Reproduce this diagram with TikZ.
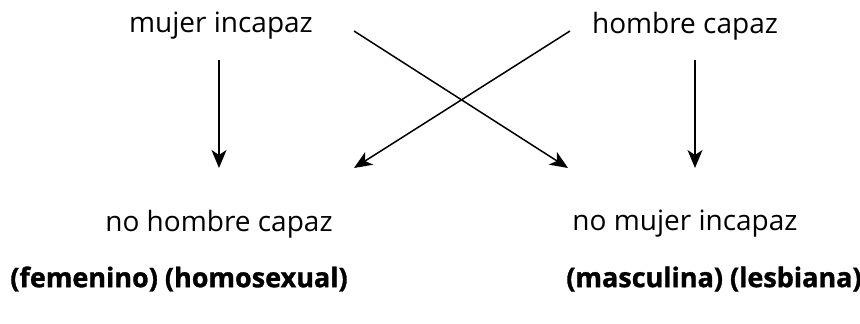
\documentclass[tikz,border=0pt]{standalone}
\usepackage{fontspec}
\setmainfont{Open Sans}
\newfontfamily\heavyfont[FakeBold=1.2]{Open Sans Bold}
\usetikzlibrary{arrows.meta}
\begin{document}
\begin{tikzpicture}[x=1pt,y=-1pt,
  term/.style={inner sep=0pt,font=\fontsize{28}{32}\selectfont},
  gloss/.style={inner sep=0pt,font=\fontsize{27}{31}\heavyfont},
  arr/.style={line width=1.5pt,-{Stealth[length=18pt,width=15pt,inset=5pt]}}]
  \useasboundingbox (0,0) rectangle (860,324);
  % terms of the square
  \node[term] (mi) at (221,26) {mujer incapaz};
  \node[term] (hc) at (685,26) {hombre capaz};
  \node[term] (nhc) at (219,224) {no hombre capaz};
  \node[term] (nmi) at (685,224) {no mujer incapaz};
  % readings of the negated terms
  \node[gloss] (fh) at (179,279) {(femenino) (homosexual)};
  \node[gloss] (ml) at (714,279) {(masculina) (lesbiana)};
  % arrow end points
  \coordinate (a1) at (219,60);  \coordinate (b1) at (219,168);
  \coordinate (a2) at (695,60);  \coordinate (b2) at (695,168);
  \coordinate (a3) at (354,31);  \coordinate (b3) at (568,168);
  \coordinate (a4) at (570,31);  \coordinate (b4) at (354,168);
  \draw[arr] (a1) -- (b1);
  \draw[arr] (a2) -- (b2);
  \draw[arr] (a3) -- (b3);
  \draw[arr] (a4) -- (b4);
\end{tikzpicture}
\end{document}
